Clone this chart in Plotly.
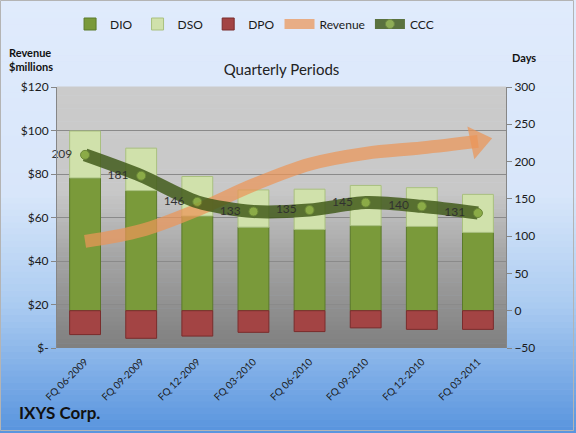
import plotly.graph_objects as go

# ---------------- data ----------------
categories = ["FQ 06-2009", "FQ 09-2009", "FQ 12-2009", "FQ 03-2010",
              "FQ 06-2010", "FQ 09-2010", "FQ 12-2010", "FQ 03-2011"]
dio = [178, 161, 127, 112, 109, 114, 113, 105]
dso = [63, 57, 53, 50, 54, 54, 52, 51]
dpo = [32, 37, 34, 29, 28, 23, 25, 25]
ccc = [209, 181, 146, 133, 135, 145, 140, 131]
revenue = [49, 54, 63.5, 75, 84.5, 89.5, 92, 95]

rev_tickvals = [0, 20, 40, 60, 80, 100, 120]
rev_ticktext = ["$-", "$20", "$40", "$60", "$80", "$100", "$120"]
days_tickvals = [-50, 0, 50, 100, 150, 200, 250, 300]

FONT = "Lato, 'Open Sans', sans-serif"
W, H = 576, 433
ML, MR, MT, MB = 57, 70, 87, 85
PW, PH = W - ML - MR, H - MT - MB
REV_COLOR = "rgb(236,150,88)"

fig = go.Figure()

neg_dpo = [-v for v in dpo]
fig.add_trace(go.Bar(x=categories, y=dio, name="DIO", yaxis="y",
                     marker=dict(color="#7a9a3a", line=dict(color="#5b7a2a", width=1)),
                     width=0.55))
fig.add_trace(go.Bar(x=categories, y=dso, name="DSO", yaxis="y",
                     marker=dict(color="#d0e1ab", line=dict(color="#a9c07f", width=1)),
                     width=0.55))
fig.add_trace(go.Bar(x=categories, y=neg_dpo, name="DPO", yaxis="y",
                     marker=dict(color="#a34444", line=dict(color="#7a2c2c", width=1)),
                     width=0.55))

fig.add_trace(go.Scatter(x=categories, y=revenue, name="Revenue", yaxis="y2",
                         mode="lines",
                         line=dict(color=REV_COLOR, width=13, shape="spline", smoothing=1.0),
                         opacity=0.72))
# arrow head at the end of the revenue line
fig.add_trace(go.Scatter(x=categories[-1:], y=revenue[-1:], yaxis="y2",
                         mode="markers", showlegend=False, hoverinfo="skip",
                         marker=dict(symbol="triangle-right", size=29, angle=-12,
                                     color=REV_COLOR, line=dict(width=0)),
                         opacity=0.72))

fig.add_trace(go.Scatter(x=categories, y=ccc, name="CCC", yaxis="y3",
                         mode="lines+markers+text", cliponaxis=False,
                         text=[str(v) + "  " for v in ccc], textposition="middle left",
                         textfont=dict(family=FONT, size=12, color="#111111"),
                         line=dict(color="rgb(62,88,22)", width=13, shape="spline", smoothing=0.8),
                         marker=dict(size=9, color="rgb(125,160,50)",
                                     line=dict(color="rgb(85,115,30)", width=1)),
                         opacity=0.82))

# ---------------- gradient backgrounds ----------------
def lerp(stops, t):
    for i in range(len(stops) - 1):
        t0, c0 = stops[i]
        t1, c1 = stops[i + 1]
        if t0 <= t <= t1:
            f = (t - t0) / (t1 - t0) if t1 > t0 else 0
            return tuple(int(round(c0[k] + (c1[k] - c0[k]) * f)) for k in range(3))
    return stops[-1][1]

shapes = []
fig_stops = [(0.0, (224, 235, 252)), (0.45, (216, 230, 250)), (0.7, (172, 204, 241)), (1.0, (88, 148, 222))]
N = 70
x0p, x1p = -ML / PW, 1 + MR / PW
for i in range(N):
    ty0 = i / N
    ty1 = (i + 1) / N
    c = lerp(fig_stops, (ty0 + ty1) / 2)
    py0 = ty0 * H
    py1 = ty1 * H
    shapes.append(dict(type="rect", xref="paper", yref="paper", layer="below",
                       x0=x0p, x1=x1p,
                       y0=(H - MB - py1) / PH, y1=(H - MB - py0) / PH + 0.002,
                       fillcolor="rgb(%d,%d,%d)" % c, line=dict(width=0)))
plot_stops = [(0.0, (203, 203, 203)), (0.4, (200, 200, 200)), (0.65, (165, 165, 165)), (1.0, (127, 127, 127))]
N2 = 60
for i in range(N2):
    ty0 = i / N2
    ty1 = (i + 1) / N2
    c = lerp(plot_stops, (ty0 + ty1) / 2)
    shapes.append(dict(type="rect", xref="paper", yref="paper", layer="below",
                       x0=0, x1=1, y0=1 - ty1, y1=1 - ty0 + 0.002,
                       fillcolor="rgb(%d,%d,%d)" % c, line=dict(width=0)))
shapes.append(dict(type="rect", xref="paper", yref="paper", layer="above",
                   x0=(-ML + 0.5) / PW, x1=1 + (MR - 2.5) / PW,
                   y0=(-MB + 2.5) / PH, y1=1 + (MT - 0.5) / PH,
                   fillcolor="rgba(0,0,0,0)", line=dict(color="#b4b4b4", width=1)))

axis_font = dict(family=FONT, size=12, color="#1a1a1a")

fig.update_layout(
    width=W, height=H,
    margin=dict(l=ML, r=MR, t=MT, b=MB, pad=0),
    paper_bgcolor="rgb(214,228,250)",
    plot_bgcolor="rgba(0,0,0,0)",
    barmode="relative",
    bargap=0.45,
    shapes=shapes,
    font=dict(family=FONT, color="#1a1a1a"),
    title=dict(text="Quarterly Periods", x=0.5, xref="paper", xanchor="center",
               y=1 - 70 / H, yref="container", yanchor="middle",
               font=dict(family=FONT, size=15, color="#222222")),
    xaxis=dict(type="category", range=[-0.5, 7.5], tickangle=-45, showgrid=False,
               ticks="", tickfont=dict(family=FONT, size=10, color="#1a1a1a"),
               ticklabelstandoff=5, showline=False, zeroline=False),
    yaxis=dict(side="right", range=[-50, 300], tickvals=days_tickvals,
               showgrid=False, zeroline=False, showline=True, linecolor="#868686",
               ticks="outside", ticklen=5, tickcolor="#868686", tickfont=axis_font),
    yaxis2=dict(side="left", overlaying="y", range=[0, 120], tickvals=rev_tickvals,
                ticktext=rev_ticktext, showgrid=True, gridcolor="#8a8a8a", gridwidth=1,
                zeroline=False, showline=True, linecolor="#868686",
                ticks="outside", ticklen=5, tickcolor="#868686", tickfont=axis_font),
    yaxis3=dict(overlaying="y", range=[-50, 300], visible=False),
    legend=dict(orientation="h", x=0.44, xanchor="center", xref="paper",
                y=1 - 24 / H, yref="container", yanchor="middle",
                bgcolor="rgba(0,0,0,0)", font=dict(family=FONT, size=12, color="#1a1a1a"),
                itemwidth=30, traceorder="normal"),
    annotations=[
        dict(text="<b>Revenue<br>$millions</b>", xref="paper", yref="paper",
             x=(31 - ML) / PW, y=1 + (MT - 59) / PH, xanchor="center", yanchor="middle",
             showarrow=False, align="left",
             font=dict(family=FONT, size=11, color="#111111")),
        dict(text="<b>Days</b>", xref="paper", yref="paper",
             x=(524 - ML) / PW, y=1 + (MT - 58) / PH, xanchor="center", yanchor="middle",
             showarrow=False,
             font=dict(family=FONT, size=11, color="#111111")),
        dict(text="<b>IXYS Corp.</b>", xref="paper", yref="paper",
             x=(17 - ML) / PW, y=(H - MB - 412) / PH, xanchor="left", yanchor="middle",
             showarrow=False,
             font=dict(family=FONT, size=17, color="#111111")),
    ],
)

fig.write_html("out.html")
